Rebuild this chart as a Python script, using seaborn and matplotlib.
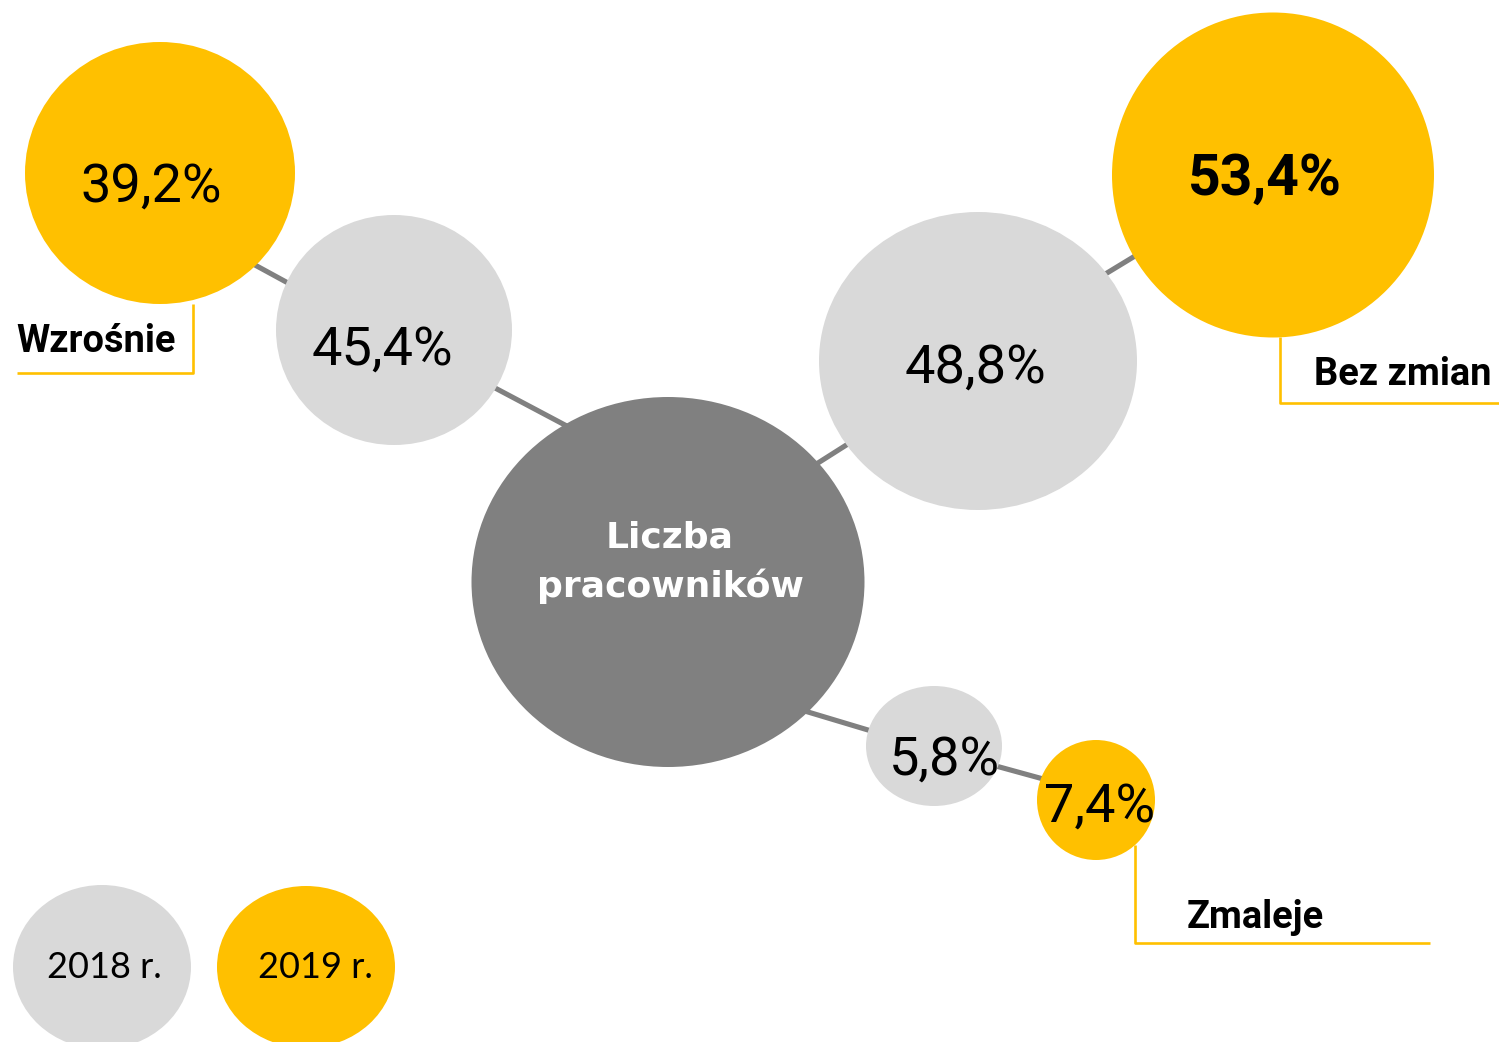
import matplotlib
matplotlib.use("Agg")
import matplotlib.pyplot as plt
from matplotlib.patches import Ellipse
import seaborn as sns
import pandas as pd

# ---------------- data ----------------
categories = ["Wzrośnie", "Bez zmian", "Zmaleje"]
values_2018 = [45.4, 48.8, 5.8]
values_2019 = [39.2, 53.4, 7.4]
center_label = ["Liczba", "pracowników"]
legend_labels = ["2018 r.", "2019 r."]

# ---------------- styles ----------------
YELLOW = "#FFC000"
LIGHT = "#D9D9D9"
DARK = "#808080"

sns.set_theme(style="white")
plt.rcParams["font.family"] = ["Roboto", "DejaVu Sans"]

fig = plt.figure(figsize=(14.99, 10.42), dpi=100)
ax = fig.add_axes([0, 0, 1, 1])

# ---------------- layout (pixel-space positions) ----------------
pos_2018 = [(394, 330, 236, 230), (978, 361, 318, 298), (934, 746, 136, 120)]
pos_2019 = [(160, 173, 270, 262), (1273, 175, 322, 325), (1096, 800, 118, 120)]
txt_2018 = [(382, 365), (975, 383), (944, 775)]
txt_2019 = [(151, 202), (1265, 195), (1100, 822)]
bold_2019 = [False, True, False]
center_pos = (668, 582, 393, 370)
center_txt = [(670, 547), (670, 597)]

segments = [
    [(470, 374.7), (590, 438.3)],
    [(230, 251.4), (310, 295.0)],
    [(790, 480.7), (870, 430.0)],
    [(1080, 289.4), (1160, 240.8)],
    [(790, 706.6), (900, 739.6)],
    [(985, 763.0), (1060, 783.6)],
]
rows = []
for i, seg in enumerate(segments):
    for (x, y) in seg:
        rows.append({"seg": i, "x": x, "y": y})
seg_df = pd.DataFrame(rows)
sns.lineplot(data=seg_df, x="x", y="y", units="seg", estimator=None,
             color=DARK, linewidth=3.7, ax=ax, legend=False, zorder=1)
ax.set_xlim(0, 1499)
ax.set_ylim(1042, 0)
ax.axis("off")

leaders = [
    [(193, 304), (193, 373), (17, 373)],
    [(1280, 337), (1280, 403), (1499, 403)],
    [(1135, 845), (1135, 943), (1430, 943)],
]
label_pos = [(96, 352), (1403, 385), (1255, 928)]
for pts in leaders:
    xs, ys = zip(*pts)
    ax.plot(xs, ys, color=YELLOW, lw=1.9, zorder=1, solid_capstyle="butt")

# centre bubble
cx, cy, cw, ch = center_pos
ax.add_patch(Ellipse((cx, cy), cw, ch, color=DARK, zorder=2, lw=0))
for (tx, ty), lab in zip(center_txt, center_label):
    ax.text(tx, ty, lab, ha="center", va="baseline", color="white",
            fontsize=26, fontweight="bold", family=["DejaVu Sans"], zorder=3)

def fmt(v):
    return f"{v:.1f}".replace(".", ",") + "%"

for i in range(len(categories)):
    x, y, w, h = pos_2018[i]
    ax.add_patch(Ellipse((x, y), w, h, color=LIGHT, zorder=2, lw=0))
    tx, ty = txt_2018[i]
    ax.text(tx, ty, fmt(values_2018[i]), ha="center", va="baseline",
            fontsize=39, color="black", zorder=4)
    x, y, w, h = pos_2019[i]
    ax.add_patch(Ellipse((x, y), w, h, color=YELLOW, zorder=3, lw=0))
    tx, ty = txt_2019[i]
    ax.text(tx, ty, fmt(values_2019[i]), ha="center", va="baseline",
            fontsize=41 if bold_2019[i] else 39, color="black", zorder=4,
            fontweight="bold" if bold_2019[i] else "normal")
    lx, ly = label_pos[i]
    ax.text(lx, ly, categories[i], ha="center", va="baseline",
            fontsize=27.4, fontweight="bold", color="black", zorder=4)

# legend bubbles
legend_pos = [(102, 967, 178, 164), (306, 967, 178, 162)]
legend_txt = [(104, 978), (315, 978)]
for (x, y, w, h), col, lab, (tx, ty) in zip(legend_pos, [LIGHT, YELLOW],
                                             legend_labels, legend_txt):
    ax.add_patch(Ellipse((x, y), w, h, color=col, zorder=2, lw=0))
    ax.text(tx, ty, lab, ha="center", va="baseline", fontsize=26,
            color="black", family=["Lato", "DejaVu Sans"], zorder=4)

fig.savefig("out.png", dpi=100)
